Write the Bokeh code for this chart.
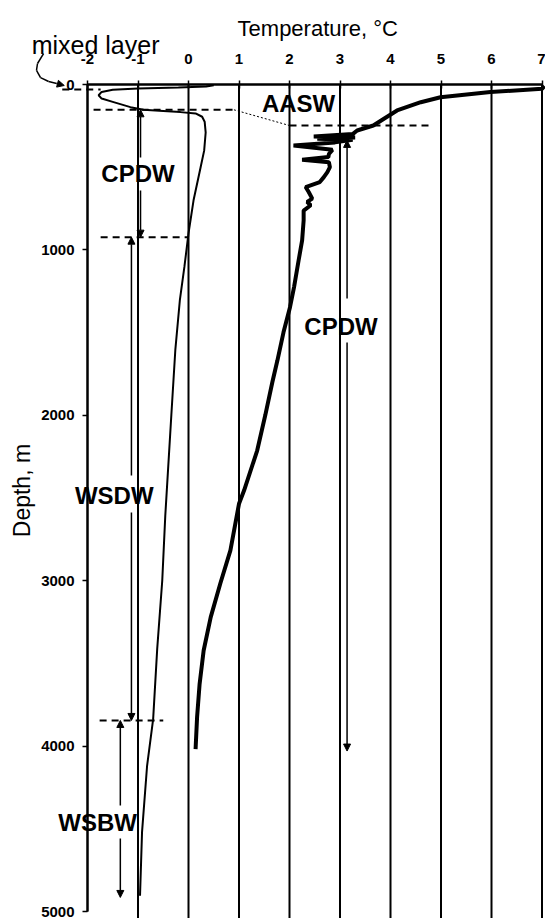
from bokeh.plotting import figure
from bokeh.models import Range1d, Label, Arrow, NormalHead, FixedTicker, LinearAxis
from bokeh.embed import file_html
from bokeh.resources import INLINE

# ---------------- data ----------------
# Station with cold profile (thin line)
thin_depth = [5, 12, 18, 24, 32, 45, 65, 85, 105, 137, 153, 160, 167, 175, 195,
              225, 290, 400, 500, 700, 900, 1100, 1300, 1601, 2000, 2608, 3000,
              3414, 3837, 4119, 4520, 4905]
thin_temp = [0.5, 0.35, -0.2, -1.0, -1.5, -1.72, -1.78, -1.72, -1.5, -1.15, -0.89,
             -0.5, -0.16, 0.14, 0.27, 0.32, 0.34, 0.31, 0.24, 0.1, 0.0, -0.08,
             -0.17, -0.26, -0.34, -0.46, -0.52, -0.62, -0.70, -0.82, -0.92, -0.96]

# Station with warm surface profile (thick line)
thick_depth = [10, 26, 46, 77, 107, 157, 207, 248, 278, 300, 314, 320, 328, 334,
               350, 369, 395, 420, 439, 455, 470, 500, 530, 560, 590, 620, 650,
               690, 710, 730, 762, 822, 943, 1064, 1225, 1346, 1500, 1669, 1800,
               2000, 2213, 2455, 2535, 2817, 3017, 3220, 3422, 3624, 3825, 4018]
thick_temp = [7.05, 7.0, 5.98, 4.99, 4.6, 4.13, 3.87, 3.66, 3.34, 3.25, 2.48, 3.3,
              2.55, 3.25, 2.9, 2.08, 2.85, 2.78, 2.77, 2.25, 2.78, 2.8, 2.75, 2.68,
              2.6, 2.32, 2.38, 2.45, 2.35, 2.42, 2.28, 2.28, 2.25, 2.18, 2.09, 2.01,
              1.88, 1.76, 1.66, 1.52, 1.36, 1.1, 1.0, 0.83, 0.63, 0.44, 0.30, 0.22,
              0.17, 0.14]

x_ticks = [-2, -1, 0, 1, 2, 3, 4, 5, 6, 7]
y_ticks = [0, 1000, 2000, 3000, 4000, 5000]

# water-mass boundaries (depth, m)
mixed_layer_depth = 30
aasw_base_a = 153
aasw_base_b = 248
cpdw_base = 923
wsdw_base = 3845

FONT = "Liberation Sans"
W, H = 545, 918
PX_X = 50.5      # pixels per degree
PX_Y = 0.1654    # pixels per metre
X0, Y0 = 87, 84  # pixel position of (-2 degC, 0 m)

x_range = Range1d(-2 - X0 / PX_X, -2 + (W - X0) / PX_X)
y_range = Range1d((H - Y0) / PX_Y, -Y0 / PX_Y)

p = figure(width=W, height=H, x_range=x_range, y_range=y_range,
           output_backend="svg", toolbar_location=None,
           x_axis_location=None, y_axis_location=None, min_border=0)
p.outline_line_color = None
p.background_fill_color = "white"
p.border_fill_color = "white"
p.grid.visible = False

# axes at fixed data locations
xax = LinearAxis(fixed_location=0, bounds=(-2, 7), ticker=FixedTicker(ticks=x_ticks))
yax = LinearAxis(fixed_location=-2, bounds=(0, 5000), ticker=FixedTicker(ticks=y_ticks))
xax.major_label_overrides = {t: str(t) for t in x_ticks}
for ax in (xax, yax):
    ax.major_label_text_font = FONT
    ax.major_label_text_font_style = "bold"
    ax.major_label_text_font_size = "15px"
    ax.major_label_text_color = "black"
    ax.axis_line_color = "black"
    ax.major_tick_line_color = "black"
    ax.minor_tick_line_color = None
xax.axis_line_width = 2.5
xax.major_tick_in = 4
xax.major_tick_out = 4
xax.major_tick_line_width = 1.5
xax.major_label_standoff = 17
yax.axis_line_width = 2
yax.major_tick_in = 0
yax.major_tick_out = 5
yax.major_tick_line_width = 1.5
yax.major_label_standoff = 8
p.add_layout(xax, "above")
p.add_layout(yax, "left")

# vertical temperature lines
p.segment(x0=x_ticks[1:], y0=0, x1=x_ticks[1:], y1=y_range.start,
          line_color="black", line_width=2)
p.segment(x0=x_ticks[:1], y0=0, x1=x_ticks[:1], y1=5000,
          line_color="black", line_width=2)

# axis titles
p.add_layout(Label(x=2.56, y=-339, text="Temperature, °C", text_font=FONT,
                   text_font_size="22px", text_align="center",
                   text_baseline="alphabetic", text_color="black"))
p.add_layout(Label(x=-3.29, y=2455, text="Depth, m", text_font=FONT,
                   text_font_size="23px", text_align="center",
                   text_baseline="middle", angle=1.5708, text_color="black"))

# profiles
p.line(thin_temp, thin_depth, line_color="black", line_width=2)
p.line(thick_temp, thick_depth, line_color="black", line_width=4)

# dashed boundaries
def dashed(x0, x1, d0, d1=None, dash="7 5", w=2):
    p.add_layout(Arrow(x_start=x0, x_end=x1, y_start=d0,
                       y_end=d0 if d1 is None else d1, start=None, end=None,
                       line_color="black", line_width=w, line_dash=dash))

dashed(-2.5, -1.74, mixed_layer_depth)
dashed(-1.88, 0.9, aasw_base_a)
dashed(0.9, 2.0, aasw_base_a, aasw_base_b, dash="2 2", w=1)
dashed(2.0, 4.85, aasw_base_b)
dashed(-1.74, 0.0, cpdw_base)
dashed(-1.76, -0.5, wsdw_base)

# range arrows, broken around the labels
def head():
    return NormalHead(size=7, line_color="black", fill_color="black")

def span_arrow(x, top, gap_top, gap_bot, bottom):
    p.add_layout(Arrow(x_start=x, x_end=x, y_start=gap_top, y_end=top, start=None,
                       end=head(), line_color="black", line_width=1.5))
    p.add_layout(Arrow(x_start=x, x_end=x, y_start=gap_bot, y_end=bottom, start=None,
                       end=head(), line_color="black", line_width=1.5))

span_arrow(-0.95, aasw_base_a, 441, 641, cpdw_base)
span_arrow(-1.13, cpdw_base, 2364, 2588, wsdw_base)
span_arrow(-1.35, wsdw_base, 4359, 4559, 4915)
span_arrow(3.14, 338, 1294, 1560, 4030)

# water mass labels
def wm(x, y, t):
    p.add_layout(Label(x=x, y=y, text=t, text_font=FONT, text_font_style="bold",
                       text_font_size="24px", text_align="center",
                       text_baseline="middle", text_color="black"))

wm(2.18, 115, "AASW")
wm(-1.0, 538, "CPDW")
wm(-1.47, 2485, "WSDW")
wm(-1.8, 4462, "WSBW")
wm(3.02, 1466, "CPDW")

# mixed layer label and curved pointer
p.add_layout(Label(x=-1.84, y=-236, text="mixed layer", text_font=FONT,
                   text_font_size="25px", text_align="center",
                   text_baseline="alphabetic", text_color="black"))
ptr_x = [-2.87, -2.99, -3.01, -2.93, -2.77, -2.61, -2.46]
ptr_d = [-187, -127, -85, -42, -18, -6, 6]
for i in range(len(ptr_x) - 1):
    last = i == len(ptr_x) - 2
    p.add_layout(Arrow(x_start=ptr_x[i], y_start=ptr_d[i], x_end=ptr_x[i + 1],
                       y_end=ptr_d[i + 1], start=None,
                       end=NormalHead(size=7, line_color="black", fill_color="black") if last else None,
                       line_color="black", line_width=1.5))

open("out.html", "w").write(file_html(p, INLINE))
